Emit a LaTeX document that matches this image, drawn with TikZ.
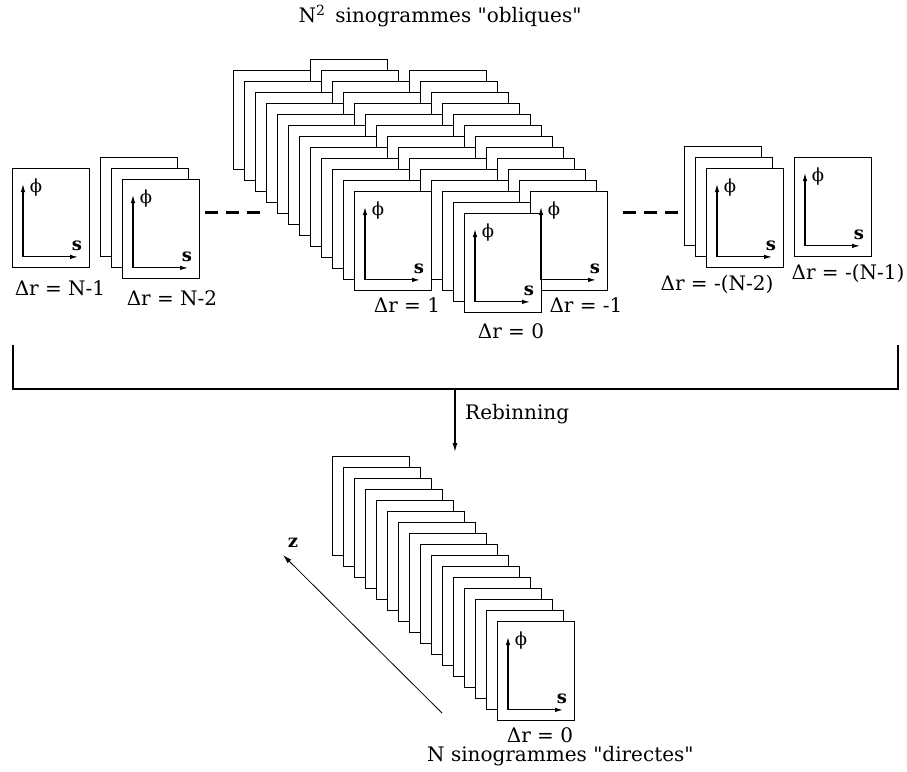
\documentclass[tikz,border=0pt]{standalone}
\usepackage{fontspec}
\setmainfont{DejaVu Serif}[Ligatures=TeXOff]
\usetikzlibrary{arrows.meta,calc}

% axes phi / s inside a front sinogram
\newcommand{\sinoaxes}[1]{%
  \draw[axis] ($(#1.north west)+(11,16)$) -- ($(#1.south west)+(11,-11)$) -- ++(55,0);
  \node[axlab] (#1-phi) at ($(#1.north west)+(24,20)$) {ϕ};
  \node[axlab, font=\fontsize{18}{20}\selectfont\bfseries] (#1-s) at ($(#1.south west)+(65,-22)$) {s};
}

\begin{document}
\begin{tikzpicture}[
    x=1pt, y=-1pt,
    sino/.style={draw, line width=0.9pt, fill=white, anchor=north west, inner sep=0pt, minimum width=77pt, minimum height=99pt},
    axis/.style={line width=1.1pt, {Latex[length=8pt,width=4.5pt]}-{Latex[length=8pt,width=4.5pt]}},
    axlab/.style={inner sep=0pt, font=\fontsize{18}{20}\selectfont},
    lab/.style={inner sep=0pt, font=\fontsize{20}{24}\selectfont},
    dots/.style={line width=3pt, dash pattern=on 13pt off 8pt}
  ]
    \useasboundingbox (0,0) rectangle (907,771);

    % title
    \node[lab] (title) at (440,16) {N\textsuperscript{2}\enspace sinogrammes "obliques"};

    % left side
    \node[sino] (left1) at (12,168) {};
    \foreach \k in {2,1,0}
      \node[sino] (left2-\k) at ({122-11*\k},{179-11*\k}) {};
    \sinoaxes{left1}
    \sinoaxes{left2-0}
    \node[lab] (lbl-left1) at (60,288) {Δr = N-1};
    \node[lab] (lbl-left2) at (172,298) {Δr = N-2};
    \draw[dots] (205,212) coordinate (dl1) -- (260,212) coordinate (dl2);

    % big oblique stack, back to front
    \foreach \k in {12,11,...,-2}{
      \ifnum\k<12 \ifnum\k>-1
        \node[sino] (a\k) at ({354-11*\k},{191-11*\k}) {};
      \fi\fi
      \node[sino] (b\k) at ({442-11*\k},{191-11*\k}) {};
      \ifnum\k<12 \ifnum\k>-1
        \node[sino] (c\k) at ({530-11*\k},{191-11*\k}) {};
      \fi\fi
    }
    \sinoaxes{a0}
    \sinoaxes{c0}
    \sinoaxes{b-2}
    \node[lab] (lbl-a) at (407,305) {Δr = 1};
    \node[lab] (lbl-b) at (511,331) {Δr = 0};
    \node[lab] (lbl-c) at (586,305) {Δr = -1};

    % right side
    \draw[dots] (623,212) coordinate (dr1) -- (678,212) coordinate (dr2);
    \foreach \k in {2,1,0}
      \node[sino] (right2-\k) at ({706-11*\k},{168-11*\k}) {};
    \node[sino] (right1) at (794,157) {};
    \sinoaxes{right2-0}
    \sinoaxes{right1}
    \node[lab] (lbl-right2) at (717,284) {Δr = -(N-2)};
    \node[lab] (lbl-right1) at (848,273) {Δr = -(N-1)};

    % bracket + rebinning
    \coordinate (brl) at (13,345);
    \coordinate (brr) at (898,345);
    \coordinate (brmid) at (455,389);
    \coordinate (rebinend) at (455,452);
    \draw[line width=2pt] (brl) |- (brmid) -| (brr);
    \draw[line width=1.2pt, -{Latex[length=9pt,width=5pt]}] (brmid) -- (rebinend);
    \node[lab, anchor=west] (rebin) at (465,414) {Rebinning};

    % direct sinograms
    \foreach \k in {15,14,...,0}
      \node[sino] (d\k) at ({497-11*\k},{621-11*\k}) {};
    \sinoaxes{d0}
    \node[lab] (lbl-d) at (540,735) {Δr = 0};
    \node[lab, anchor=west] (direct) at (427,756) {N sinogrammes "directes"};

    % z axis
    \coordinate (zfrom) at (442,713);
    \coordinate (zto) at (283,555);
    \draw[line width=0.8pt, -{Latex[length=9pt,width=5pt]}] (zfrom) -- (zto);
    \node[lab, font=\fontsize{18}{20}\selectfont\bfseries] (zlab) at (293,543) {z};
\end{tikzpicture}
\end{document}
